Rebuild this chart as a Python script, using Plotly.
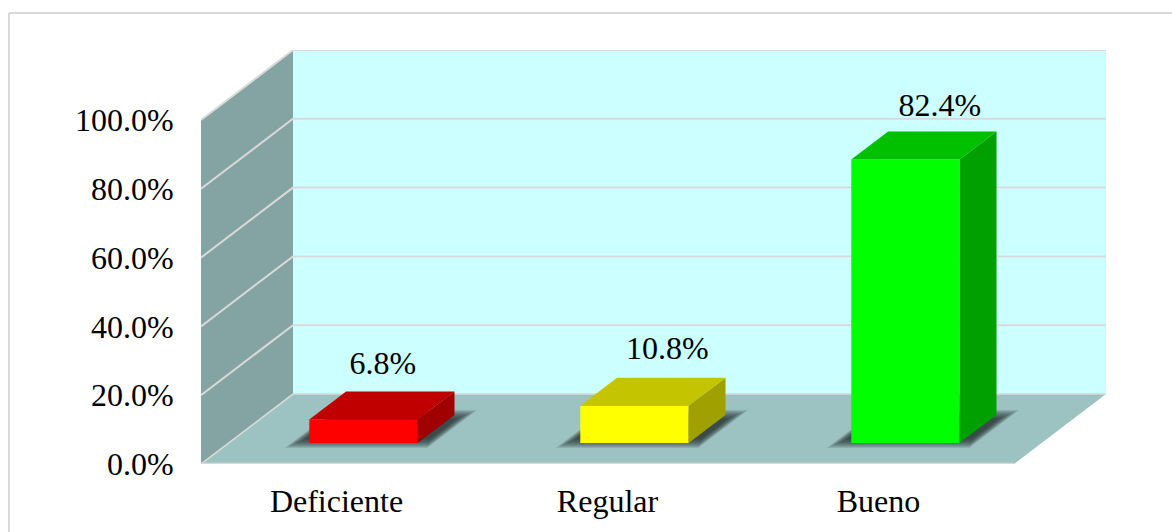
import plotly.graph_objects as go

categories = ["Deficiente", "Regular", "Bueno"]
values = [6.8, 10.8, 82.4]
value_labels = ["6.8%", "10.8%", "82.4%"]
y_ticks = [0, 20, 40, 60, 80, 100]
y_tick_labels = ["0.0%", "20.0%", "40.0%", "60.0%", "80.0%", "100.0%"]
front_colors = ["#FF0000", "#FFFF00", "#00FF00"]
top_colors = ["#C00000", "#C4C400", "#00C000"]
side_colors = ["#A00000", "#A0A000", "#00A000"]

PX_X = 271.0            # pixels per category
PX_Y = 3.44             # pixels per percent
DEPTH_X = 92 / PX_X     # full chart depth in x units
DEPTH_Y = 70 / PX_Y     # full chart depth in y units
BAR_W = 0.4
BAR_SHIFT = -0.6 / PX_X
D0, D1 = 0.3, 0.7       # bar position within the depth
LABEL_SHIFT_X = [-18, -4.5, -3]   # label offset from bar's rear top centre, px
LABEL_SHIFT_Y = [26, 27, 24]
WALL = "#84A4A4"
FLOOR = "#9CC3C2"
BACK = "#CCFFFF"
GRID = "#D9D9D9"
FONT = "Liberation Serif"
FONT_SIZE = 32

def P(x, d, v):
    return x + d * DEPTH_X, v + d * DEPTH_Y

fig = go.Figure()

def poly(points, color):
    xs = [p[0] for p in points] + [points[0][0]]
    ys = [p[1] for p in points] + [points[0][1]]
    fig.add_trace(go.Scatter(x=xs, y=ys, mode="lines", fill="toself", fillcolor=color,
                             line=dict(width=0, color=color), hoverinfo="skip", showlegend=False))

def seg(points, width=2, color=GRID):
    fig.add_trace(go.Scatter(x=[p[0] for p in points], y=[p[1] for p in points], mode="lines",
                             line=dict(width=width, color=color), hoverinfo="skip", showlegend=False))

n = len(categories)
top = y_ticks[-1]
poly([P(0, 1, 0), P(n, 1, 0), P(n, 1, top), P(0, 1, top)], BACK)
poly([P(0, 0, 0), P(0, 1, 0), P(0, 1, top), P(0, 0, top)], WALL)
poly([P(0, 0, 0), P(n, 0, 0), P(n, 1, 0), P(0, 1, 0)], FLOOR)

for t in y_ticks:
    if t == 0:
        seg([P(n, 1, 0), P(0, 1, 0), P(0, 0, 0)], 1.6)
        seg([P(0, 0, 0), P(n, 0, 0)], 2.5)
    else:
        seg([P(0, 0, t), P(0, 1, t), P(n, 1, t)])

# soft shadows on the floor: nested translucent parallelograms
for i in range(n):
    cx = i + 0.5 + BAR_SHIFT
    for grow in [5, 4, 3, 2, 1, 0, -1, -2, -3, -4]:
        gx = (grow - 3) / PX_X
        gd = grow / 70
        x0 = cx - BAR_W / 2 - 16 / PX_X - gx
        x1 = cx + BAR_W / 2 + 14 / PX_X + gx
        d0 = D0 - gd
        d1 = D0 + 28 / 70 + gd
        poly([P(x0, d0, 0), P(x1, d0, 0), P(x1, d1, 0), P(x0, d1, 0)], "rgba(30,40,40,0.13)")

for i, v in enumerate(values):
    cx = i + 0.5 + BAR_SHIFT
    x0, x1 = cx - BAR_W / 2, cx + BAR_W / 2
    poly([P(x0, D0, 0), P(x1, D0, 0), P(x1, D0, v), P(x0, D0, v)], front_colors[i])
    poly([P(x1, D0, 0), P(x1, D1, 0), P(x1, D1, v), P(x1, D0, v)], side_colors[i])
    poly([P(x0, D0, v), P(x1, D0, v), P(x1, D1, v), P(x0, D1, v)], top_colors[i])

fig.add_trace(go.Scatter(
    x=[P(i + 0.5, D1, v)[0] + LABEL_SHIFT_X[i] / PX_X for i, v in enumerate(values)],
    y=[P(i + 0.5, D1, v)[1] + LABEL_SHIFT_Y[i] / PX_Y for i, v in enumerate(values)],
    mode="text", text=value_labels, textposition="middle center",
    textfont=dict(family=FONT, size=FONT_SIZE, color="#000000"),
    hoverinfo="skip", showlegend=False))

L, T, W, H = 201, 50, 905, 414
paper_x = lambda px: (px - L) / W
paper_y = lambda px: (T + H - px) / H
fig.add_shape(type="line", xref="paper", yref="paper", x0=paper_x(9), x1=paper_x(9),
              y0=paper_y(13), y1=paper_y(540), line=dict(color=GRID, width=2))
fig.add_shape(type="line", xref="paper", yref="paper", x0=paper_x(9), x1=paper_x(1180),
              y0=paper_y(13), y1=paper_y(13), line=dict(color=GRID, width=2))

fig.update_layout(
    width=1172, height=532, margin=dict(l=L, r=1172 - L - W, t=T, b=532 - T - H),
    paper_bgcolor="#FFFFFF", plot_bgcolor="#FFFFFF", showlegend=False, hovermode=False,
    font=dict(family=FONT, size=FONT_SIZE, color="#000000"),
    xaxis=dict(range=[0, n + DEPTH_X], tickvals=[i + 0.5 for i in range(n)], ticktext=categories,
               showgrid=False, zeroline=False, showline=False, ticks="outside", ticklen=9, automargin=False,
               tickcolor="rgba(0,0,0,0)", tickfont=dict(family=FONT, size=FONT_SIZE, color="#000000")),
    yaxis=dict(range=[0, top + DEPTH_Y], tickvals=y_ticks, ticktext=y_tick_labels,
               showgrid=False, zeroline=False, showline=False, ticks="outside", ticklen=20, automargin=False,
               tickcolor="rgba(0,0,0,0)", tickfont=dict(family=FONT, size=FONT_SIZE, color="#000000")),
)

fig.write_html("out.html", config={"displayModeBar": False},
               post_script="document.body.style.margin='0';")
